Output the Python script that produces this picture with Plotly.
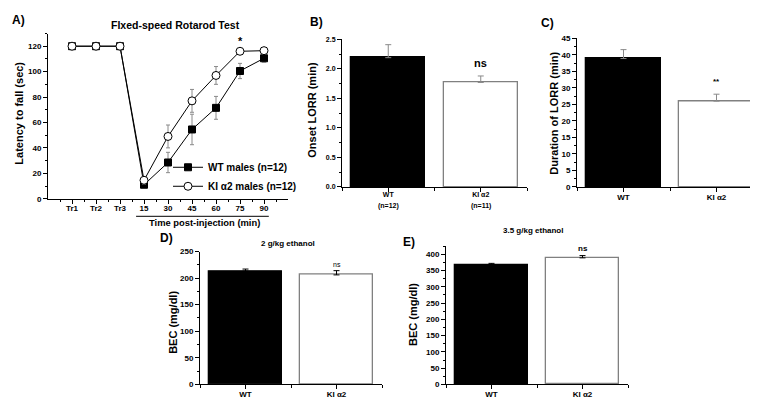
import plotly.graph_objects as go

W, H = 758, 401
FONT = "Liberation Sans, Arial, sans-serif"

# ---------------- data ----------------
# Panel A: fixed-speed rotarod
rotarod_labels = ["Tr1", "Tr2", "Tr3", "15", "30", "45", "60", "75", "90"]
wt_latency = [120, 120, 120, 11, 28.5, 54.5, 71.5, 100.5, 110.5]
wt_latency_err = [0, 0, 0, 2, 8, 12, 9, 6, 3]
ki_latency = [120, 120, 120, 14.5, 49, 77, 97, 116, 116.5]
ki_latency_err = [0, 0, 0, 3, 9, 9, 7, 1.5, 1]

# Panels B-E
genotypes = ["WT", "KI α2"]
onset_n = ["(n=12)", "(n=11)"]
onset_lorr = [2.19, 1.77]
onset_lorr_err = [0.22, 0.11]
duration_lorr = [38.9, 26.0]
duration_lorr_err = [2.7, 2.1]
bec_2g = [213, 206]
bec_2g_err = [4, 8]
bec_35g = [366, 389]
bec_35g_err = [6, 7]

# ---------------- helpers ----------------
def X(px):
    return px / W

def Y(py):
    return 1 - py / H

def font(size, bold=True, color="black"):
    d = dict(family=FONT, size=size, color=color)
    if bold:
        d["weight"] = "bold"
    return d

def axis(tsize=8, **kw):
    d = dict(showline=True, linecolor="black", linewidth=1, ticks="outside",
             ticklen=4, tickwidth=1, tickcolor="black", showgrid=False,
             zeroline=False, tickfont=font(tsize), fixedrange=True)
    d.update(kw)
    return d

pos_a = list(range(1, len(rotarod_labels) + 1))
pos_bar = list(range(1, len(genotypes) + 1))

fig = go.Figure()

# ---------------- Panel A ----------------
fig.add_trace(go.Scatter(
    x=pos_a, y=wt_latency, mode="lines+markers", name="WT males (n=12)",
    line=dict(color="black", width=1),
    marker=dict(symbol="square", size=7, color="black", line=dict(color="black", width=1)),
    error_y=dict(type="data", array=wt_latency_err, color="#8a8a8a", thickness=1, width=2),
    xaxis="x", yaxis="y"))
fig.add_trace(go.Scatter(
    x=pos_a, y=ki_latency, mode="lines+markers", name="KI α2 males (n=12)",
    line=dict(color="black", width=1),
    marker=dict(symbol="circle", size=8, color="white", line=dict(color="black", width=1)),
    error_y=dict(type="data", array=ki_latency_err, color="#8a8a8a", thickness=1, width=2),
    xaxis="x", yaxis="y"))

# ---------------- Bar panels ----------------
def add_bars(vals, errs, xa, ya, errcolor):
    fig.add_trace(go.Bar(
        x=pos_bar, y=vals, width=0.8,
        marker=dict(color=["black", "white"], line=dict(color=["black", "#808080"], width=1.3)),
        error_y=dict(type="data", array=errs, arrayminus=[0] * len(errs), symmetric=False,
                     color=errcolor, thickness=1, width=3),
        xaxis=xa, yaxis=ya, showlegend=False))

add_bars(onset_lorr, onset_lorr_err, "x2", "y2", "#8a8a8a")
add_bars(duration_lorr, duration_lorr_err, "x3", "y3", "#8a8a8a")
add_bars(bec_2g, bec_2g_err, "x4", "y4", "black")
add_bars(bec_35g, bec_35g_err, "x5", "y5", "black")

bar_minor = dict(ticks="outside", ticklen=3, tickcolor="black",
                 tickmode="array", tickvals=[0.5, 1.5, 2.5])

layout = dict(
    width=W, height=H, margin=dict(l=0, r=0, t=0, b=0),
    paper_bgcolor="white", plot_bgcolor="white",
    bargap=0,
    showlegend=True,
    legend=dict(x=X(160), y=Y(144), xanchor="left", yanchor="top",
                bgcolor="rgba(0,0,0,0)", font=font(10), itemwidth=30,
                tracegroupgap=0),
    xaxis=axis(8, domain=[X(40), X(280)], range=[0, 10], anchor="y",
               tickmode="array", tickvals=pos_a, ticktext=rotarod_labels,
               ticklabelstandoff=-2,
               minor=dict(ticks="outside", ticklen=2, tickcolor="black",
                          tickmode="array", tickvals=[p - 0.5 for p in pos_a] + [pos_a[-1] + 0.5])),
    yaxis=axis(8, domain=[Y(191), Y(22)], range=[0, 130], anchor="x",
               tickmode="linear", tick0=0, dtick=20,
               minor=dict(ticks="outside", ticklen=2, tickcolor="black", dtick=10)),
    xaxis2=axis(7, domain=[X(334), X(519)], range=[0.5, 2.5], anchor="y2",
                tickmode="array", tickvals=pos_bar, ticktext=genotypes, minor=bar_minor,
                ticklabelstandoff=-3),
    yaxis2=axis(7, domain=[Y(179), Y(28)], range=[0, 2.5], anchor="x2",
                tickmode="linear", tick0=0, dtick=0.5, tickformat=".1f",
                minor=dict(ticks="outside", ticklen=2, tickcolor="black", dtick=0.25)),
    xaxis3=axis(8, domain=[X(569), X(755)], range=[0.5, 2.5], anchor="y3",
                tickmode="array", tickvals=pos_bar, ticktext=genotypes, minor=bar_minor,
                ticklabelstandoff=-2),
    yaxis3=axis(8, domain=[Y(179), Y(27)], range=[0, 45], anchor="x3",
                tickmode="linear", tick0=0, dtick=5,
                minor=dict(ticks="outside", ticklen=2, tickcolor="black", dtick=2.5)),
    xaxis4=axis(8, domain=[X(192), X(374)], range=[0.5, 2.5], anchor="y4",
                tickmode="array", tickvals=pos_bar, ticktext=genotypes, minor=bar_minor,
                ticklabelstandoff=-2),
    yaxis4=axis(8, domain=[Y(381), Y(245)], range=[0, 250], anchor="x4",
                tickmode="linear", tick0=0, dtick=50,
                minor=dict(ticks="outside", ticklen=2, tickcolor="black", dtick=25)),
    xaxis5=axis(8, domain=[X(438), X(620)], range=[0.5, 2.5], anchor="y5",
                tickmode="array", tickvals=pos_bar, ticktext=genotypes, minor=bar_minor,
                ticklabelstandoff=-2),
    yaxis5=axis(8, domain=[Y(381), Y(239.5)], range=[0, 425], anchor="x5",
                tickmode="linear", tick0=0, dtick=50,
                minor=dict(ticks="outside", ticklen=2, tickcolor="black", dtick=25)),
)

ann = []

def pann(text, px, py, size, bold=True, angle=0, xanchor="center"):
    ann.append(dict(text=text, x=X(px), y=Y(py), xref="paper", yref="paper",
                    showarrow=False, font=font(size, bold), textangle=angle,
                    xanchor=xanchor, yanchor="middle"))

# panel letters
pann("A)", 2, 8, 12, xanchor="left")
pann("B)", 300, 10, 12, xanchor="left")
pann("C)", 531, 11, 12, xanchor="left")
pann("D)", 150, 231, 12, xanchor="left")
pann("E)", 393, 235, 12, xanchor="left")

# titles
pann("FIxed-speed Rotarod Test", 167, 13, 10.5)
pann("2 g/kg ethanol", 280, 237, 8)
pann("3.5 g/kg ethanol", 525, 224, 8)

# y-axis titles
pann("Latency to fall (sec)", 11, 104, 11, angle=-90)
pann("Onset LORR (min)", 304, 100, 11, angle=-90)
pann("Duration of LORR (min)", 546, 104, 11, angle=-90)
pann("BEC (mg/dl)", 165, 318, 11, angle=-90)
pann("BEC (mg/dl)", 405, 310, 11, angle=-90)

# x-axis title of A
pann("Time post-injection (min)", 196, 215, 9.4)

# n labels under panel B
for p, t in zip(pos_bar, onset_n):
    ann.append(dict(text=t, x=p, y=Y(198), xref="x2", yref="paper", showarrow=False,
                    font=font(7), xanchor="center", yanchor="middle"))

# significance marks
def sig(text, xref, yref, xv, yv, size, bold=True, shift=4):
    ann.append(dict(text=text, x=xv, y=yv, xref=xref, yref=yref, showarrow=False,
                    font=font(size, bold), xanchor="center", yanchor="bottom", yshift=shift))

i75 = rotarod_labels.index("75")
sig("*", "x", "y", pos_a[i75], ki_latency[i75] + ki_latency_err[i75], 11, shift=0)
sig("ns", "x2", "y2", pos_bar[1], onset_lorr[1] + onset_lorr_err[1], 11, shift=5)
sig("**", "x3", "y3", pos_bar[1], duration_lorr[1] + duration_lorr_err[1], 8, shift=6)
sig("ns", "x4", "y4", pos_bar[1], bec_2g[1] + bec_2g_err[1], 7, bold=False, shift=1)
sig("ns", "x5", "y5", pos_bar[1], bec_35g[1] + bec_35g_err[1], 8, shift=1)

layout["annotations"] = ann

# bracket line under the post-injection time points
i15 = rotarod_labels.index("15")
layout["shapes"] = [dict(type="line", xref="x", yref="paper",
                         x0=pos_a[i15] - 0.33, x1=pos_a[-1] + 0.2,
                         y0=Y(209), y1=Y(209), line=dict(color="black", width=1))]

fig.update_layout(**layout)
fig.write_html("out.html")
